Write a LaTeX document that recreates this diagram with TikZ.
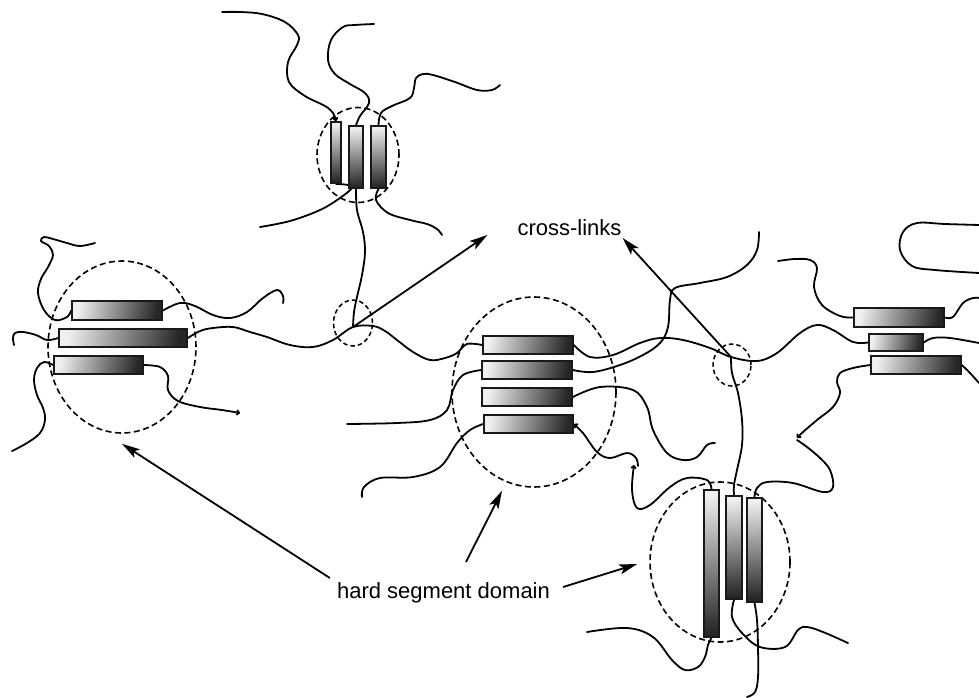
\documentclass[tikz,border=0pt]{standalone}
\usepackage{fontspec}
\newfontfamily\labelfont{Liberation Sans}
\usetikzlibrary{shapes.geometric, arrows.meta}
\pgfdeclarelayer{back}
\pgfsetlayers{back,main}
\begin{document}
\begin{tikzpicture}[x=1pt, y=-1pt,
  strand/.style={line width=1.8pt, line cap=round, line join=round},
  hsd/.style={ellipse, draw, dash pattern=on 6pt off 3.5pt, line width=1.6pt, inner sep=0pt},
  xlink/.style={ellipse, draw, dash pattern=on 4.5pt off 3pt, line width=1.5pt, inner sep=0pt},
  hbar/.style={rectangle, draw=black!90, line width=1.7pt, inner sep=0pt,
    left color=black!6, right color=black!85, shading angle=79},
  vbar/.style={rectangle, draw=black!90, line width=1.7pt, inner sep=0pt,
    top color=black!6, bottom color=black!85, shading angle=5},
  pointer/.style={line width=1.8pt, -{Stealth[length=18pt, width=10pt, inset=4pt]}},
  endtip/.style={-{To[length=4pt, width=6pt]}},
  starttip/.style={{To[length=4pt, width=6pt]}-},
  lbl/.style={font=\labelfont\fontsize{22}{26}\selectfont, inner sep=0pt},
]
\useasboundingbox (0,0) rectangle (979,697);

% hard segment domains and cross-link marks
\begin{pgfonlayer}{back}
\node[hsd, minimum width=82pt, minimum height=95pt] (dT) at (358,155) {};
\node[hsd, minimum width=148pt, minimum height=172pt] (dL) at (122,347) {};
\node[hsd, minimum width=164pt, minimum height=190pt] (dM) at (534,392) {};
\node[hsd, minimum width=140pt, minimum height=160pt] (dB) at (720,562) {};
\node[xlink, minimum width=39pt, minimum height=46pt] (x1) at (353,323) {};
\node[xlink, minimum width=38pt, minimum height=42pt] (x2) at (732,365) {};
\end{pgfonlayer}
\coordinate (p1) at (353,327);
\coordinate (p2) at (731,357);

% hard segments: top cluster
\node[vbar, minimum width=10pt, minimum height=61pt] (T1) at (336,152.5) {};
\node[vbar, minimum width=14pt, minimum height=62pt] (T2) at (356,157) {};
\node[vbar, minimum width=15pt, minimum height=62pt] (T3) at (378.5,157) {};
% left cluster
\node[hbar, minimum width=90pt, minimum height=19pt] (L1) at (117,310.5) {};
\node[hbar, minimum width=128pt, minimum height=18pt] (L2) at (123,338) {};
\node[hbar, minimum width=89pt, minimum height=18pt] (L3) at (98.5,365) {};
% middle cluster
\node[hbar, minimum width=90pt, minimum height=18pt] (M1) at (528,345) {};
\node[hbar, minimum width=90pt, minimum height=18pt] (M2) at (527,370) {};
\node[hbar, minimum width=90pt, minimum height=18pt] (M3) at (527,397) {};
\node[hbar, minimum width=89pt, minimum height=18pt] (M4) at (528.5,424) {};
% right cluster
\node[hbar, minimum width=90pt, minimum height=19pt] (R1) at (899,317.5) {};
\node[hbar, minimum width=54pt, minimum height=17pt] (R2) at (896,342.5) {};
\node[hbar, minimum width=90pt, minimum height=18pt] (R3) at (916,365) {};
% lower cluster
\node[vbar, minimum width=15pt, minimum height=147pt] (B1) at (711.5,563.5) {};
\node[vbar, minimum width=16pt, minimum height=103pt] (B2) at (734,547.5) {};
\node[vbar, minimum width=15pt, minimum height=104pt] (B3) at (754.5,550) {};

% soft segment chains
\begin{pgfonlayer}{back}
\draw[strand, endtip] plot[smooth, tension=0.6] coordinates {(222,12) (240,12) (262,14) (285,22) (298,35) (297,45) (288,62) (289,82) (305,96) (325,106) (333,113) (T1.north)};
\draw[strand] plot[smooth, tension=0.6] coordinates {(374,24) (355,25) (343,27) (331,40) (328,60) (335,74) (350,84) (365,93) (369,103) (360,116) (T2.north)};
\draw[strand] plot[smooth, tension=0.6] coordinates {(T3.north) (381,113) (392,106) (410,98) (414,88) (416,78) (423,74) (433,75) (455,82) (477,90) (492,90) (500,85)};
\draw[strand] plot[smooth, tension=0.6] coordinates {(T1.south) (348,185) (352,188) (340,198) (320,210) (290,221) (260,227)};
\draw[strand] plot[smooth, tension=0.6] coordinates {(T2.south) (357,210) (363,232) (365,252) (362,275) (357,297) (354,312) (p1)};
\draw[strand] plot[smooth, tension=0.6] coordinates {(T3.south) (376,200) (388,213) (410,220) (427,224) (437,229) (442,235)};

\draw[strand] plot[smooth, tension=0.6] coordinates {(L1.west) (67,317) (55,320) (44,310) (38,293) (41,279) (48,267) (53,255) (49,246) (41,241) (44,237) (53,239) (67,243) (80,246) (95,243)};
\draw[strand] plot[smooth, tension=0.6] coordinates {(L2.west) (47,340) (36,335) (23,332) (15,333) (13,338) (14,345)};
\draw[strand] plot[smooth, tension=0.6] coordinates {(L3.west) (44,362) (37,368) (34,380) (37,395) (43,408) (45,420) (40,433) (27,443) (12,451)};
\draw[strand, endtip] plot[smooth, tension=0.6] coordinates {(L3.east) (160,367) (168,376) (168,390) (178,401) (200,407) (222,410) (240,413)};
\draw[strand] plot[smooth, tension=0.6] coordinates {(L1.east) (180,303) (195,306) (213,315) (230,318) (247,312) (263,298) (277,290) (283,296) (283,303)};
\draw[strand] plot[smooth, tension=0.6] coordinates {(L2.east) (200,331) (213,328) (233,327) (250,332) (267,337) (290,345) (313,347) (333,340) (p1) (373,326) (385,331) (397,340) (413,352) (430,360) (445,358) (457,353) (467,344) (M1.west)};

\draw[strand] plot[smooth, tension=0.6] coordinates {(M1.east) (590,357) (613,355) (640,343) (660,338) (683,340) (710,348) (p2) (757,361) (777,353) (800,333) (817,325) (833,330) (853,342) (R2.west)};
\draw[strand] plot[smooth, tension=0.6] coordinates {(M2.east) (593,372) (620,365) (643,355) (660,343) (668,327) (670,300) (675,288) (700,283) (727,277) (747,265) (757,250) (759,232)};
\draw[strand] plot[smooth, tension=0.6] coordinates {(M3.east) (600,387) (633,390) (647,407) (653,430) (667,453) (683,460) (697,457) (707,445) (715,443)};
\draw[strand, starttip] plot[smooth, tension=0.6] coordinates {(M4.east) (583,433) (597,452) (610,458) (627,453) (636,458) (638,466)};
\draw[strand, endtip] plot[smooth, tension=0.6] coordinates {(B1.north) (707,480) (687,478) (670,487) (650,505) (637,508) (632,490) (634,465)};
\draw[strand] plot[smooth, tension=0.6] coordinates {(M2.west) (463,375) (453,390) (447,410) (430,420) (397,423) (347,424)};
\draw[strand] plot[smooth, tension=0.6] coordinates {(M4.west) (470,430) (457,443) (440,467) (413,477) (380,478) (364,487) (362,497)};

\draw[strand] plot[smooth, tension=0.6] coordinates {(778,261) (795,259) (810,260) (817,268) (814,287) (822,305) (840,316) (R1.west)};
\draw[strand] plot[smooth, tension=0.6] coordinates {(R1.east) (953,317) (963,303) (973,298) (979,298)};
\draw[strand] plot[smooth, tension=0.6] coordinates {(R2.east) (933,338) (950,338) (979,343)};
\draw[strand] plot[smooth, tension=0.6] coordinates {(R3.east) (970,373) (979,383)};
\draw[strand, endtip] plot[smooth, tension=0.6] coordinates {(R3.west) (853,368) (840,373) (837,382) (840,393) (833,407) (817,420) (803,432) (797,438)};
\draw[strand] plot[smooth, tension=0.6] coordinates {(797,440) (807,447) (820,458) (830,470) (833,487) (823,492) (793,483) (767,482) (757,488) (B3.north)};
\draw[strand] plot[smooth, tension=0.6] coordinates {(979,225) (945,224) (917,223) (903,232) (900,250) (912,266) (935,270) (979,273)};
\draw[strand] plot[smooth, tension=0.6] coordinates {(p2) (732,373) (738,393) (742,420) (742,445) (737,470) (734,485) (B2.north)};

\draw[strand] plot[smooth, tension=0.6] coordinates {(B1.south) (708,645) (705,657) (698,667) (685,670) (672,660) (653,637) (627,628) (587,632)};
\draw[strand] plot[smooth, tension=0.6] coordinates {(B2.south) (732,617) (742,633) (760,647) (785,647) (798,630) (807,627) (823,632) (848,643)};
\draw[strand] plot[smooth, tension=0.6] coordinates {(B3.south) (757,620) (758,647) (758,677) (755,692) (747,697)};
\end{pgfonlayer}

% labels and pointers
\node[lbl, anchor=base] (cl) at (569.5,235) {cross-links};
\node[lbl, anchor=base] (hs) at (443.5,598) {hard segment domain};

\draw[pointer] (p1) -- ([xshift=-30pt]cl.base west);
\draw[pointer] (p2) -- ([shift={(1,3)}]cl.base east);
\draw[pointer] ([shift={(-7,-20)}]hs.base west) -- ([yshift=-10pt]dL.south);
\draw[pointer] ([shift={(22.5,-36)}]hs.base) -- ([shift={(-32,3)}]dM.south);
\draw[pointer] ([shift={(13,-11)}]hs.base east) -- ([shift={(-12,2)}]dB.west);
\end{tikzpicture}
\end{document}
